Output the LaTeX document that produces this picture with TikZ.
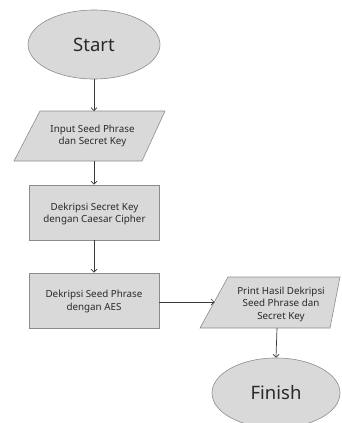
\documentclass[tikz,border=0pt]{standalone}
\usepackage{fontspec}
\setmainfont{Noto Sans}
\usetikzlibrary{shapes.geometric,arrows.meta}
\definecolor{shapefill}{HTML}{D9D9D9}
\definecolor{shapeline}{HTML}{8C8C8C}
\definecolor{linkcol}{HTML}{3A3A3A}
\definecolor{txtcol}{HTML}{2A2A2A}
\tikzset{
  shapebox/.style={draw=shapeline,fill=shapefill,line width=0.6pt},
  ovalbox/.style={shapebox,ellipse,inner sep=0pt},
  smalltext/.style={font=\fontsize{9.8}{12.5}\selectfont,align=center,text=txtcol},
  bigtext/.style={font=\fontsize{18.5}{22}\selectfont,text=txtcol},
  arr/.style={draw=linkcol,line width=0.7pt,-{Straight Barb[length=3pt,width=6pt]}}
}
\begin{document}
\begin{tikzpicture}[x=1pt,y=-1pt]
\useasboundingbox (0,0) rectangle (342,423);
\clip (0,0) rectangle (342,423);
% Start
\node[ovalbox,minimum width=132pt,minimum height=69pt] (start) at (94,44.5) {};
\node[bigtext] (starttxt) at (94,44.5) {Start};
% Input parallelogram
\draw[shapebox] (40,111) -- (165,111) -- (142,161) -- (14,161) -- cycle;
\coordinate (inT) at (94,111);
\coordinate (inB) at (94,161);
\node[smalltext] (intxt) at (92.5,136) {Input Seed Phrase\\dan Secret Key};
% Box 1
\node[shapebox,minimum width=130pt,minimum height=55pt] (b1) at (94,212.5) {};
\node[smalltext] (b1txt) at (94.5,214) {Dekripsi Secret Key\\dengan Caesar Cipher};
% Box 2
\node[shapebox,minimum width=130pt,minimum height=55pt] (b2) at (94,300.5) {};
\node[smalltext] (b2txt) at (94,301.5) {Dekripsi Seed Phrase\\dengan AES};
% Output parallelogram
\draw[shapebox] (228,277) -- (340,277) -- (330,328) -- (200,328) -- cycle;
\coordinate (outL) at (214.5,302);
\coordinate (outB) at (277,328);
\node[smalltext] (outtxt) at (281,304) {Print Hasil Dekripsi\\Seed Phrase dan\\Secret Key};
% Finish
\node[ovalbox,minimum width=128pt,minimum height=70pt] (finish) at (276,393) {};
\node[bigtext] (fintxt) at (276,393) {Finish};
% connectors
\draw[arr] (start.south) -- (inT);
\draw[arr] (inB) -- (b1.north);
\draw[arr] (b1.south) -- (b2.north);
\draw[arr] (b2.east |- outL) -- (outL);
\draw[arr] (outB) -- (finish.north);
\end{tikzpicture}
\end{document}
